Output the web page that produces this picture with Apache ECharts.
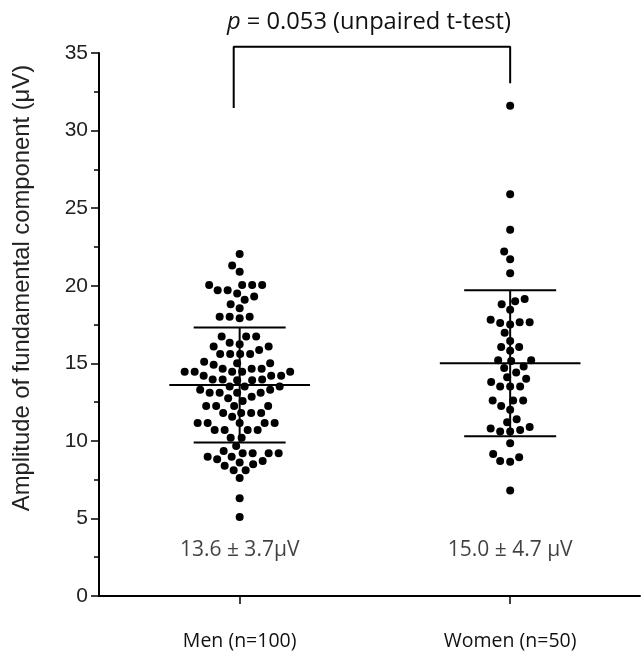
<!DOCTYPE html>
<html>
<head>
<meta charset="utf-8">
<script src="https://cdn.jsdelivr.net/npm/echarts@6/dist/echarts.min.js"></script>
<style>html,body{margin:0;padding:0;background:#fff}#c{width:641px;height:651px}</style>
</head>
<body>
<div id="c"></div>
<script>
// ---- data ----
const categories = ['Men (n=100)', 'Women (n=50)'];
const menValues = [
  22.05, 21.3, 20.9, 20.05, 20.05, 20.05, 20.05, 19.7, 19.7, 19.5, 19.3, 19.1, 18.8, 18.55, 18.0, 18.0, 18.0, 17.9,
  16.72, 16.72, 16.72, 16.33, 16.23, 16.08, 16.08, 15.86, 15.6, 15.6, 15.6, 15.6, 15.1, 15.0, 15.0, 14.9,
  14.65, 14.65, 14.65, 14.45, 14.45, 14.45, 14.45, 14.45, 14.2, 14.2, 14.2, 13.95, 13.95, 13.95, 13.9, 13.9,
  13.5, 13.5, 13.5, 13.3, 13.3, 13.1, 13.1, 13.1, 13.1, 12.85, 12.75, 12.57, 12.25, 12.25, 12.25, 12.25,
  11.8, 11.8, 11.8, 11.8, 11.55, 11.15, 11.15, 11.15, 11.15, 11.15, 10.7, 10.7, 10.7, 10.7, 10.2, 10.2,
  9.67, 9.35, 9.2, 9.2, 9.2, 9.2, 8.97, 8.97, 8.82, 8.7, 8.6, 8.5, 8.4, 8.1, 8.1, 7.6, 6.3, 5.1
];
const womenValues = [
  31.6, 25.9, 23.6, 22.2, 21.7, 20.8, 19.15, 19.0, 18.8, 18.45, 17.8, 17.65, 17.65, 17.6, 17.5, 16.97, 16.44,
  16.05, 16.05, 15.8, 15.2, 15.2, 15.15, 14.8, 14.7, 14.4, 14.1, 14.0, 13.8, 13.5, 13.5, 13.5,
  12.6, 12.6, 12.6, 12.25, 12.0, 11.4, 11.2, 10.8, 10.9, 10.7, 10.6, 10.6, 9.85, 9.15, 8.95, 8.7, 8.65, 6.8
];
const means = [13.6, 15.0];
const sds = [3.7, 4.7];
const summaryLabels = ['13.6 \u00b1 3.7\u03bcV', '15.0 \u00b1 4.7 \u03bcV'];
const pText = '0.053 (unpaired t-test)';
const yName = 'Amplitude of fundamental component (\u03bcV)';
const yTicks = [0, 5, 10, 15, 20, 25, 30, 35];

// ---- layout ----
const W = 641, H = 651;
const gridL = 99, gridR = 1, gridT = 53, gridB = 55;
const xMin = -0.52, xMax = 1.48, yMin = 0, yMax = 35;
const pxX = (W - gridL - gridR) / (xMax - xMin);
const pxY = (H - gridT - gridB) / (yMax - yMin);
const DOT = 8;

function swarm(values, center) {
  const sorted = values.slice().sort((a, b) => a - b);
  const placed = [];
  const D = 9.7;
  sorted.forEach(v => {
    const py = v * pxY;
    let best = 0;
    for (let k = 0; k < 400; k++) {
      const off = (k % 2 === 0 ? 1 : -1) * Math.ceil(k / 2) * 0.5;
      let ok = true;
      for (const p of placed) {
        const dx = p[0] - off, dy = p[1] - py;
        if (dx * dx + dy * dy < D * D) { ok = false; break; }
      }
      if (ok) { best = off; break; }
    }
    placed.push([best, py]);
  });
  return placed.map(p => [center + p[0] / pxX, p[1] / pxY]);
}

const menPts = swarm(menValues, 0);
const womenPts = swarm(womenValues, 1);

const chart = echarts.init(document.getElementById('c'));
const fontMain = 'Liberation Sans, Arial, sans-serif';
const fontCal = 'Open Sans, sans-serif';

chart.setOption({
  animation: false,
  backgroundColor: '#fff',
  title: {
    text: '{i|p} = ' + pText,
    left: 227, top: 10, padding: 0,
    textStyle: {
      fontSize: 23.7, fontWeight: 'normal', color: '#111', fontFamily: fontCal,
      rich: { i: { fontStyle: 'italic', fontSize: 23.7, fontFamily: fontCal, color: '#111' } }
    }
  },
  graphic: [{
    type: 'text', x: 22, y: 288, rotation: Math.PI / 2,
    style: { text: yName, fontSize: 23.8, fill: '#222', fontFamily: fontMain,
      align: 'center', verticalAlign: 'middle' }
  }],
  grid: { left: gridL, right: gridR, top: gridT, bottom: gridB },
  xAxis: {
    type: 'value', min: xMin, max: xMax,
    splitLine: { show: false },
    axisLine: { onZero: false, lineStyle: { color: '#000', width: 2 } },
    axisTick: { customValues: [0, 1], length: 8, lineStyle: { color: '#000', width: 1.5 } },
    axisLabel: {
      customValues: [0, 1], margin: 35, fontSize: 19.5, color: '#111', fontFamily: fontCal,
      formatter: v => categories[Math.round(v)]
    }
  },
  yAxis: {
    type: 'value', min: yMin, max: yMax, interval: 5,
    splitLine: { show: false },
    axisLine: { show: true, onZero: false, lineStyle: { color: '#000', width: 2 } },
    axisTick: { show: true, length: 8, lineStyle: { color: '#000', width: 1.5 } },
    minorTick: { show: true, splitNumber: 2, length: 5, lineStyle: { color: '#000', width: 1.5 } },
    axisLabel: { margin: 11, fontSize: 21, color: '#222', fontFamily: fontMain,
      formatter: v => yTicks.indexOf(v) >= 0 ? String(v) : '' }
  },
  series: [
    { type: 'scatter', data: menPts, symbolSize: DOT, itemStyle: { color: '#000', opacity: 1 }, z: 3 },
    { type: 'scatter', data: womenPts, symbolSize: DOT, itemStyle: { color: '#000', opacity: 1 }, z: 3 },
    {
      type: 'custom', z: 4,
      data: means.map((m, i) => [i, m, sds[i]]),
      renderItem: (params, api) => {
        const c = api.value(0), m = api.value(1), s = api.value(2);
        const meanHalf = 0.26, sdHalf = 0.17;
        const seg = (x1, y1, x2, y2) => {
          const a = api.coord([x1, y1]), b = api.coord([x2, y2]);
          return { type: 'line', shape: { x1: a[0], y1: a[1], x2: b[0], y2: b[1] },
            style: { stroke: '#000', lineWidth: 2 } };
        };
        return { type: 'group', children: [
          seg(c - meanHalf, m, c + meanHalf, m),
          seg(c - sdHalf, m + s, c + sdHalf, m + s),
          seg(c - sdHalf, m - s, c + sdHalf, m - s),
          seg(c, m - s, c, m + s)
        ]};
      }
    },
    {
      type: 'line', clip: false, symbol: 'none', z: 5,
      lineStyle: { color: '#000', width: 2 },
      data: [[-0.022, 31.45], [-0.022, 35.4], [1.0, 35.4], [1.0, 33.05]]
    },
    {
      type: 'scatter', symbolSize: 0, z: 5,
      data: summaryLabels.map((t, i) => ({ value: [i, 2.95], name: t })),
      label: { show: true, position: 'inside', formatter: p => p.name,
        fontSize: 21, color: '#111', fontFamily: fontCal }
    }
  ]
});
</script>
</body>
</html>
